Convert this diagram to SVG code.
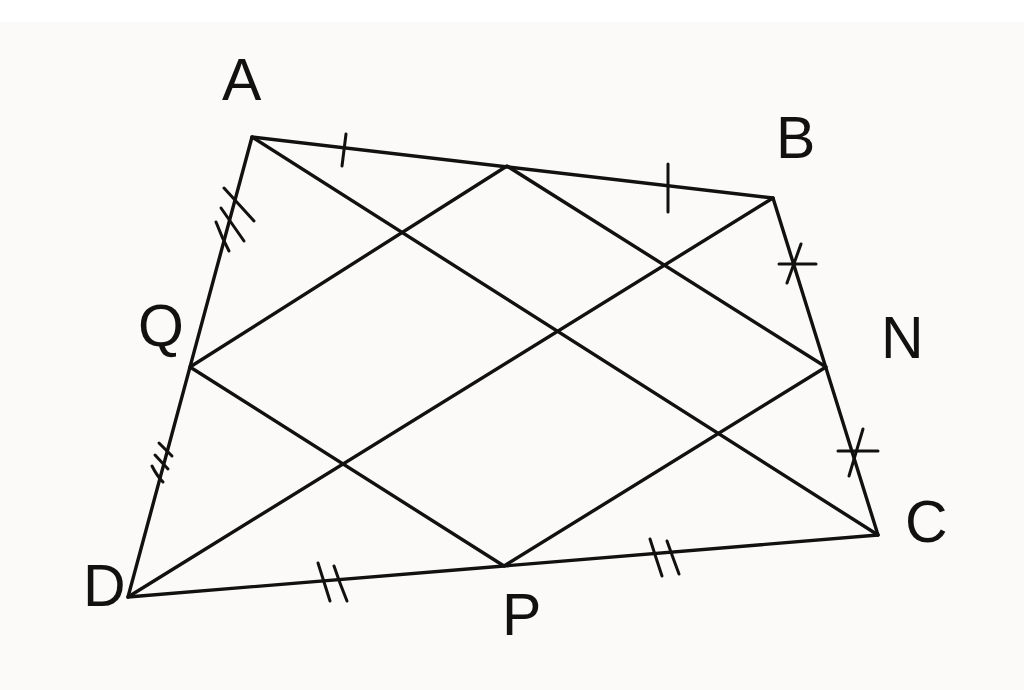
<svg xmlns="http://www.w3.org/2000/svg" width="1024" height="690" viewBox="0 0 1024 690">
<style>
.l{stroke:#111;stroke-width:3.4;fill:none;stroke-linecap:round;stroke-linejoin:round}
.t{stroke:#111;stroke-width:3;fill:none;stroke-linecap:round}
.lab{font-family:"Liberation Sans",Arial,sans-serif;font-size:59px;fill:#111}
</style>
<rect width="1024" height="690" fill="#fbfaf8"/>
<rect width="1024" height="22" fill="#ffffff"/>
<g id="connectors">
<polygon class="l" points="252,137 773,198 878,535 128,597"/>
<line class="l" x1="252" y1="137" x2="878" y2="535"/>
<line class="l" x1="773" y1="198" x2="128" y2="597"/>
<polygon class="l" points="507,166 826,367 504,566 190,367"/>
</g>
<g id="ticks">
<line class="t" x1="346" y1="134" x2="342" y2="166"/>
<line class="t" x1="668" y1="164" x2="668" y2="212"/>
<line class="t" x1="779" y1="264" x2="816" y2="264"/>
<line class="t" x1="801" y1="244" x2="787" y2="283"/>
<line class="t" x1="838" y1="451" x2="878" y2="451"/>
<line class="t" x1="863" y1="429" x2="849" y2="476"/>
<path class="t" d="M224,188 L254,221"/>
<path class="t" d="M221,208 L244,241"/>
<path class="t" d="M216,222 Q222,238 229,251"/>
<path class="t" d="M159,443 L172,456"/>
<path class="t" d="M155,455 L168,469"/>
<path class="t" d="M152,466 Q157,476 163,482"/>
<path class="t" d="M318,563 Q324,582 330,601"/>
<path class="t" d="M334,566 Q340,584 347,601"/>
<path class="t" d="M650,539 Q656,558 662,576"/>
<path class="t" d="M667,541 Q673,558 679,574"/>
</g>
<g id="labels">
<g id="A"><text class="lab" x="222" y="100">A</text></g>
<g id="B"><text class="lab" x="776" y="158">B</text></g>
<g id="N"><text class="lab" x="881" y="358">N</text></g>
<g id="Q"><text class="lab" x="138" y="346">Q</text></g>
<g id="C"><text class="lab" x="905" y="542">C</text></g>
<g id="D"><text class="lab" x="83" y="606">D</text></g>
<g id="P"><text class="lab" x="502" y="635">P</text></g>
</g>
</svg>
